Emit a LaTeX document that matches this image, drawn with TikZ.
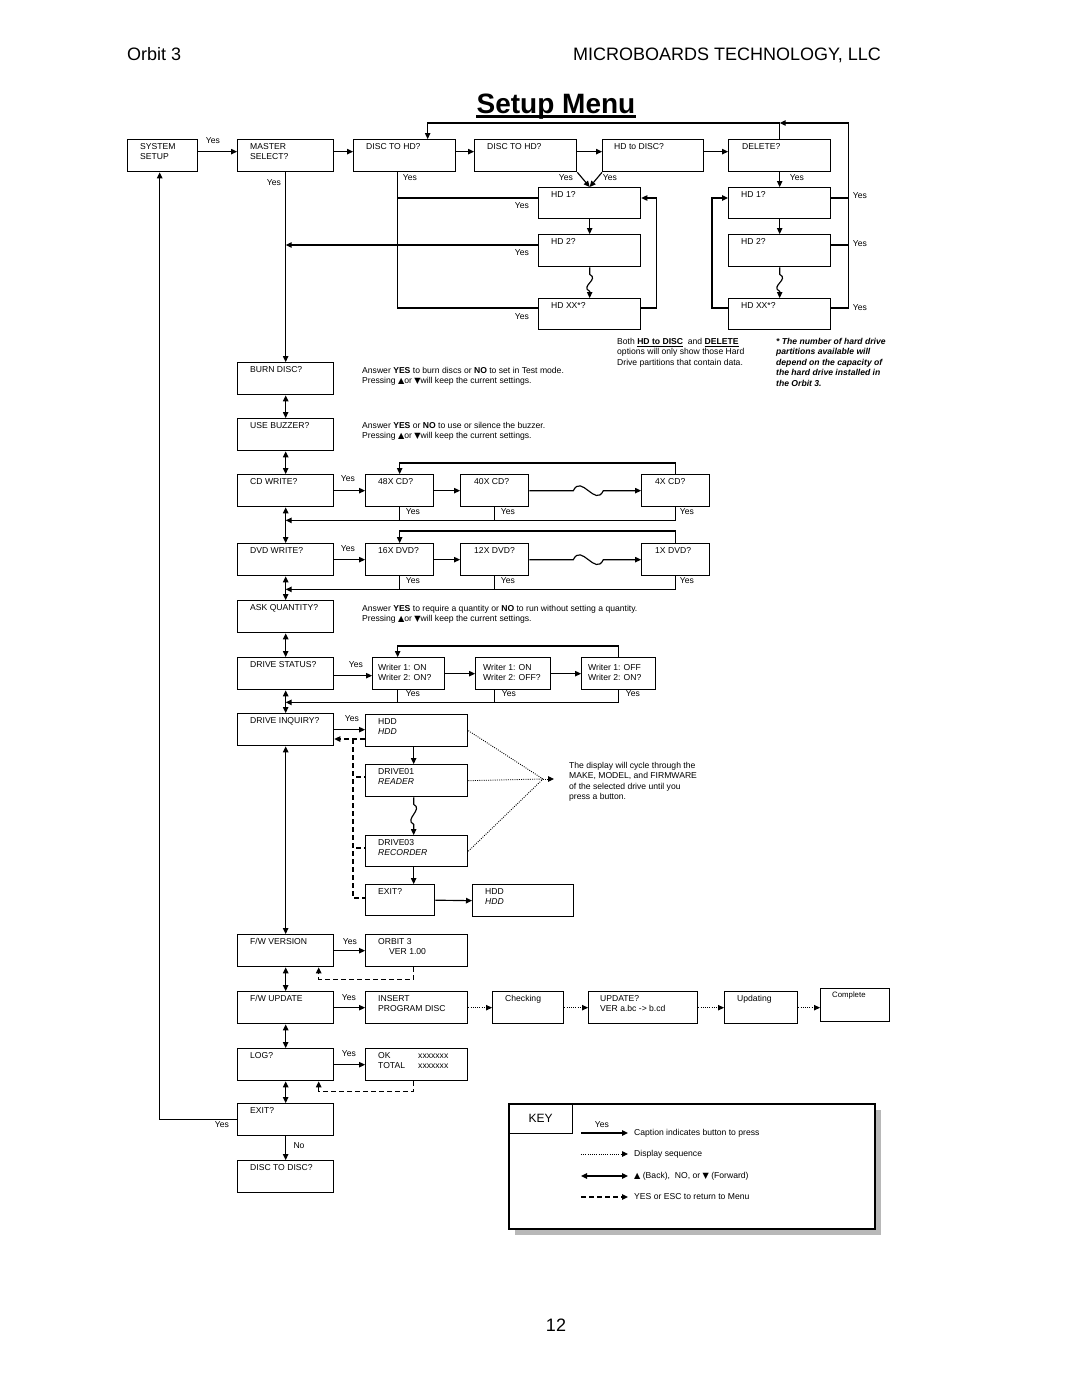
\documentclass[tikz,border=0pt]{standalone}
\usepackage{fontspec}
\setmainfont{Liberation Sans}
\newfontfamily\symf{DejaVu Sans}[Scale=0.95]
\usetikzlibrary{arrows.meta}
\newcommand{\fsz}{\fontsize{8.6}{10.5}\selectfont}
\newcommand{\uptri}{{\symf ▲}}
\newcommand{\dntri}{{\symf ▼}}
% optional dx; name, x, y, w, h, text
\newcommand{\bx}[7][13]{%
  \node[box, minimum width=#5pt, minimum height=#6pt, anchor=north west] (#2) at (#3,#4) {};
  \node[btxt] (#2-t) at ([xshift=#1pt,yshift=-4pt]#2.north west) {#7};
}
\begin{document}
\begin{tikzpicture}[x=1pt,y=-1pt,
  box/.style={draw, line width=1.35pt, inner sep=0pt},
  btxt/.style={inner sep=0pt, align=left, font=\fsz, anchor=north west},
  ln/.style={line width=1.15pt},
  tip/.style={-{Triangle[length=6pt,width=5.5pt]}},
  arr/.style={ln, tip},
  darr/.style={ln, {Triangle[length=6pt,width=5.5pt]}-{Triangle[length=6pt,width=5.5pt]}},
  dsh/.style={ln, dash pattern=on 5pt off 3pt},
  dsharr/.style={dsh, tip},
  dotl/.style={line width=0.9pt, dash pattern=on 0.9pt off 1.3pt},
  dotarr/.style={dotl, tip},
  lbl/.style={inner sep=0pt, font=\fsz},
  note/.style={inner sep=0pt, font=\fsz, align=left, anchor=north west},
]
\fill[white] (0,0) rectangle (1080,1397);
\useasboundingbox (0,0) rectangle (1080,1397);

% ---------- header ----------
\node[anchor=base west, font=\fontsize{18}{20}\selectfont, inner sep=0pt] (orbit) at (127,61) {Orbit 3};
\node[anchor=base east, font=\fontsize{18}{20}\selectfont, inner sep=0pt] (mbt) at (881,61) {MICROBOARDS TECHNOLOGY, LLC};
\node[anchor=base, font=\bfseries\fontsize{28}{30}\selectfont, inner sep=0pt] (title) at (556,113) {Setup Menu};
\draw[line width=2.4pt] ([yshift=-3.5pt]title.base west) -- ([yshift=-3.5pt]title.base east);
\node[anchor=base, font=\fontsize{18}{20}\selectfont, inner sep=0pt] (pg) at (556,1331) {12};

% ---------- top row ----------
\bx{sys}{127}{139}{70}{32}{SYSTEM\\SETUP}
\bx{master}{237}{139}{96}{32}{MASTER\\SELECT?}
\bx{dth1}{353}{139}{102}{32}{DISC TO HD?}
\bx{dth2}{474}{139}{102}{32}{DISC TO HD?}
\bx[12]{htd}{602}{139}{101}{32}{HD to DISC?}
\bx[14]{del}{728}{139}{102}{32}{DELETE?}

\draw[arr] ([yshift=4pt]sys.east) -- ([yshift=4pt]master.west);
\node[lbl] (ysys) at (213,141) {Yes};
\draw[arr] ([yshift=4pt]master.east) -- ([yshift=4pt]dth1.west);
\draw[arr] ([yshift=4pt]dth1.east) -- ([yshift=4pt]dth2.west);
\draw[arr] ([yshift=4pt]dth2.east) -- ([yshift=4pt]htd.west);
\draw[arr] ([yshift=4pt]htd.east) -- ([yshift=4pt]del.west);

% left HD column
\bx{lhd1}{538}{187}{102}{31}{HD 1?}
\bx{lhd2}{538}{234}{102}{32}{HD 2?}
\bx{lhdx}{538}{298}{102}{31}{HD XX*?}
\draw[arr] (dth2.south east) -- (lhd1.north);
\draw[arr] (htd.south west) -- (lhd1.north);
\node[lbl] (yd2) at (566,178) {Yes};
\node[lbl] (yhd) at (610,178) {Yes};
\draw[arr] (lhd1.south) -- (lhd2.north);
\draw[arr] (lhd2.south) -- ++(0,7) .. controls +(10,5) and +(-10,-5) .. ++(0,17) -- (lhdx.north);

\coordinate (l1w) at ([yshift=-11pt]lhd1.north west);
\coordinate (l2w) at ([yshift=-11pt]lhd2.north west);
\coordinate (lxw) at ([yshift=-10pt]lhdx.north west);
\coordinate (dv) at ([xshift=-7pt]dth1.south);
\draw[ln] (dv) |- (lxw);
\draw[ln] (l1w) -- (l1w -| dv);
\draw[arr] (l2w) -- (l2w -| master.south);
\node[lbl] (ydth1) at (410,178) {Yes};
\node[lbl] (yl1) at (522,206) {Yes};
\node[lbl] (yl2) at (522,253) {Yes};
\node[lbl] (ylx) at (522,317) {Yes};

\coordinate (l1e) at ([yshift=-11pt]lhd1.north east);
\coordinate (lxe) at ([yshift=-10pt]lhdx.north east);
\draw[arr] (lxe) -- ++(15,0) |- (l1e);

% right HD column
\bx{rhd1}{728}{187}{102}{31}{HD 1?}
\bx{rhd2}{728}{234}{102}{32}{HD 2?}
\bx{rhdx}{728}{298}{102}{31}{HD XX*?}
\draw[arr] (del.south) -- (rhd1.north);
\node[lbl] (ydel) at (797,178) {Yes};
\draw[arr] (rhd1.south) -- (rhd2.north);
\draw[arr] (rhd2.south) -- ++(0,7) .. controls +(10,5) and +(-10,-5) .. ++(0,17) -- (rhdx.north);

\coordinate (r1w) at ([yshift=-11pt]rhd1.north west);
\coordinate (rxw) at ([yshift=-10pt]rhdx.north west);
\draw[arr] (rxw) -- ++(-16,0) |- (r1w);

\coordinate (r1e) at ([yshift=-11pt]rhd1.north east);
\coordinate (r2e) at ([yshift=-11pt]rhd2.north east);
\coordinate (rxe) at ([yshift=-10pt]rhdx.north east);
\coordinate (rv) at ([xshift=17pt]rxe);
\coordinate (tj) at ([yshift=16pt]del.north);
\coordinate (dtin) at ([xshift=23pt]dth1.north);
\draw[ln] (r1e) -- (r1e -| rv);
\draw[ln] (r2e) -- (r2e -| rv);
\draw[arr] (rxe) -- (rv) -- (rv |- tj) -- (tj);
\draw[arr] (del.north) -- (tj) -- (tj -| dtin) -- (dtin);
\node[lbl] (yr1) at (860,196) {Yes};
\node[lbl] (yr2) at (860,244) {Yes};
\node[lbl] (yrx) at (860,308) {Yes};

% footnotes
\node[note] (fn1) at (617,338) {Both \underline{\textbf{HD\ to\ DISC}}\ \ and \underline{\textbf{DELETE}}\\options will only show those Hard\\Drive partitions that contain data.};
\node[note, font=\fsz\bfseries\itshape] (fn2) at (776,338) {* The number of hard drive\\partitions available will\\depend on the capacity of\\the hard drive installed in\\the Orbit 3.};

% ---------- main column ----------
\node[lbl] (ymaster) at (274,183) {Yes};
\bx{burn}{237}{362}{96}{32}{BURN DISC?}
\bx{buzz}{237}{418}{96}{32}{USE BUZZER?}
\bx{cdw}{237}{474}{96}{32}{CD WRITE?}
\bx{dvdw}{237}{543}{96}{32}{DVD WRITE?}
\bx{askq}{237}{600}{96}{32}{ASK QUANTITY?}
\bx{dstat}{237}{657}{96}{32}{DRIVE STATUS?}
\bx{dinq}{237}{713}{96}{32}{DRIVE INQUIRY?}
\bx{fwv}{237}{934}{96}{32}{F/W VERSION}
\bx{fwu}{237}{991}{96}{32}{F/W UPDATE}
\bx{log}{237}{1048}{96}{32}{LOG?}
\bx{exit}{237}{1103}{96}{32}{EXIT?}
\bx{dtd}{237}{1160}{96}{32}{DISC TO DISC?}

\draw[arr] (master.south) -- (burn.north);
\draw[darr] (burn.south) -- (buzz.north);
\draw[darr] (buzz.south) -- (cdw.north);
\draw[darr] (cdw.south) -- (dvdw.north);
\draw[darr] (dvdw.south) -- (askq.north);
\draw[darr] (askq.south) -- (dstat.north);
\draw[darr] (dstat.south) -- (dinq.north);
\draw[darr] (dinq.south) -- (fwv.north);
\draw[darr] (fwv.south) -- (fwu.north);
\draw[darr] (fwu.south) -- (log.north);
\draw[darr] (log.south) -- (exit.north);
\draw[arr] (exit.south) -- (dtd.north);
\node[lbl] (yno) at (299,1146) {No};
\coordinate (sysb) at ([xshift=-3pt]sys.south);
\draw[arr] (exit.west) -| (sysb);
\node[lbl] (yexit) at (222,1125) {Yes};

% notes
\node[note] (nburn) at (362,367) {Answer \textbf{YES} to burn discs or \textbf{NO} to set in Test mode.\\Pressing \uptri or \dntri will keep the current settings.};
\node[note] (nbuzz) at (362,422) {Answer \textbf{YES} or \textbf{NO} to use or silence the buzzer.\\Pressing \uptri or \dntri will keep the current settings.};
\node[note] (nask) at (362,605) {Answer \textbf{YES} to require a quantity or \textbf{NO} to run without setting a quantity.\\Pressing \uptri or \dntri will keep the current settings.};

% ---------- CD row ----------
\bx{cd48}{365}{474}{68}{32}{48X CD?}
\bx[14]{cd40}{460}{474}{68}{32}{40X CD?}
\bx[14]{cd4}{641}{474}{68}{32}{4X CD?}
\draw[arr] (cdw.east) -- (cd48.west);
\node[lbl] (ycdw) at (348,479) {Yes};
\draw[arr] (cd48.east) -- (cd40.west);
\draw[arr] (cd40.east) -- ++(44,0) .. controls +(8,-17) and +(-8,17) .. ++(30,0) -- (cd4.west);
\draw[arr] (cd4.north) -- ++(0,-11) -| (cd48.north);
\coordinate (cdr) at ([yshift=-13pt]cd4.south);
\draw[arr] (cd4.south) -- (cdr) -- (cdr -| cdw.south);
\draw[ln] (cd48.south) -- (cd48.south |- cdr);
\draw[ln] (cd40.south) -- (cd40.south |- cdr);
\node[lbl] (yc1) at (413,512) {Yes};
\node[lbl] (yc2) at (508,512) {Yes};
\node[lbl] (yc3) at (687,512) {Yes};

% ---------- DVD row ----------
\bx{dvd16}{365}{543}{68}{32}{16X DVD?}
\bx[14]{dvd12}{460}{543}{68}{32}{12X DVD?}
\bx[14]{dvd1}{641}{543}{68}{32}{1X DVD?}
\draw[arr] (dvdw.east) -- (dvd16.west);
\node[lbl] (ydvdw) at (348,549) {Yes};
\draw[arr] (dvd16.east) -- (dvd12.west);
\draw[arr] (dvd12.east) -- ++(44,0) .. controls +(8,-17) and +(-8,17) .. ++(30,0) -- (dvd1.west);
\draw[arr] (dvd1.north) -- ++(0,-12) -| (dvd16.north);
\coordinate (dvr) at ([yshift=-13pt]dvd1.south);
\draw[arr] (dvd1.south) -- (dvr) -- (dvr -| dvdw.south);
\draw[ln] (dvd16.south) -- (dvd16.south |- dvr);
\draw[ln] (dvd12.south) -- (dvd12.south |- dvr);
\node[lbl] (yv1) at (413,581) {Yes};
\node[lbl] (yv2) at (508,581) {Yes};
\node[lbl] (yv3) at (687,581) {Yes};

% ---------- drive status row ----------
\node[box, minimum width=72pt, minimum height=32pt, anchor=north west] (ws1) at (372,657) {};
\node[btxt] (ws1-t) at ([xshift=6pt,yshift=-7pt]ws1.north west) {Writer 1: ON\\Writer 2: ON?};
\node[box, minimum width=75pt, minimum height=32pt, anchor=north west] (ws2) at (475,657) {};
\node[btxt] (ws2-t) at ([xshift=8pt,yshift=-7pt]ws2.north west) {Writer 1: ON\\Writer 2: OFF?};
\node[box, minimum width=74pt, minimum height=32pt, anchor=north west] (ws3) at (581,657) {};
\node[btxt] (ws3-t) at ([xshift=7pt,yshift=-7pt]ws3.north west) {Writer 1: OFF\\Writer 2: ON?};
\draw[arr] ([yshift=-2pt]dstat.east) -- ([yshift=-2pt]dstat.east -| ws1.west);
\node[lbl] (ydst) at (356,665) {Yes};
\draw[arr] (ws1.east) -- (ws2.west);
\draw[arr] (ws2.east) -- (ws3.west);
\coordinate (wsl) at ([xshift=-11pt]ws1.north);
\draw[arr] (ws3.north) -- ++(0,-11) -| (wsl);
\coordinate (wr) at ([yshift=-12pt]ws3.south);
\draw[arr] (ws3.south) -- (wr) -- (wr -| dstat.south);
\draw[ln] ([xshift=-11pt]ws1.south) -- ++(0,12);
\draw[ln] ([xshift=-19pt]ws2.south) -- ++(0,12);
\node[lbl] (yw1) at (413,694) {Yes};
\node[lbl] (yw2) at (509,694) {Yes};
\node[lbl] (yw3) at (633,694) {Yes};

% ---------- drive inquiry ----------
\bx{hdd}{365}{714}{102}{32}{HDD\\\textit{HDD}}
\bx{dr1}{365}{764}{102}{32}{DRIVE01\\\textit{READER}}
\bx{dr3}{365}{835}{102}{31}{DRIVE03\\\textit{RECORDER}}
\bx{iexit}{365}{884}{69}{31}{EXIT?}
\bx{hdd2}{472}{884}{101}{32}{HDD\\\textit{HDD}}
\draw[arr] (dinq.east) -- (dinq.east -| hdd.west);
\node[lbl] (ydinq) at (352,719) {Yes};
\coordinate (hw) at ([yshift=-25pt]hdd.north west);
\draw[dsharr] (hw) -- (hw -| dinq.east);
\coordinate (dvx) at ([xshift=-12pt]hw);
\draw[dsh] (dvx) |- ([yshift=-14pt]iexit.north west);
\draw[dsh, dash phase=5pt] ([yshift=-13pt]dr1.north west -| dvx) -- ([yshift=-13pt]dr1.north west);
\draw[dsh, dash phase=5pt] ([yshift=-13pt]dr3.north west -| dvx) -- ([yshift=-13pt]dr3.north west);
\draw[arr] ([xshift=-3pt]hdd.south) -- ([xshift=-3pt]dr1.north);
\draw[arr] ([xshift=-3pt]dr1.south) -- ++(0,7) .. controls +(10,5) and +(-10,-5) .. ++(0,20) -- ([xshift=-3pt]dr3.north);
\draw[arr] ([xshift=-3pt]dr3.south) -- ([xshift=-3pt]dr3.south |- iexit.north);
\draw[arr] (iexit.east) -- (hdd2.west);
\coordinate (conv) at (543,779);
\draw[dotl] (hdd.east) -- (conv);
\draw[dotl] (dr1.east) -- (conv);
\draw[dotl] (dr3.east) -- (conv);
\draw[dotarr] (conv) -- ++(11,0);
\node[note] (ndisp) at (569,762) {The display will cycle through the\\MAKE, MODEL, and FIRMWARE\\of the selected drive until you\\press a button.};

% ---------- F/W version ----------
\bx{orb}{365}{934}{102}{32}{ORBIT 3\\\hspace*{11pt}VER 1.00}
\draw[arr] (fwv.east) -- (orb.west);
\node[lbl] (yfwv) at (350,942) {Yes};
\coordinate (fvr) at ([xshift=33pt]fwv.south);
\draw[dsharr] ([xshift=-3pt]orb.south) -- ++(0,12) -| (fvr);

% ---------- F/W update ----------
\bx{ins}{365}{991}{102}{32}{INSERT\\PROGRAM DISC}
\bx{chk}{492}{991}{71}{32}{Checking}
\bx[12]{upd}{588}{991}{109}{32}{UPDATE?\\VER a.bc -> b.cd}
\bx{updg}{724}{991}{73}{32}{Updating}
\node[box, minimum width=69pt, minimum height=33pt, anchor=north west] (cmpl) at (820,988) {};
\node[btxt, font=\fontsize{7.8}{9}\selectfont] (cmpl-t) at ([xshift=12pt,yshift=-4pt]cmpl.north west) {Complete};
\draw[arr] (fwu.east) -- (ins.west);
\node[lbl] (yfwu) at (349,998) {Yes};
\draw[dotarr] (ins.east) -- (chk.west);
\draw[dotarr] (chk.east) -- (upd.west);
\draw[dotarr] (upd.east) -- (updg.west);
\draw[dotarr] (updg.east) -- (updg.east -| cmpl.west);

% ---------- LOG ----------
\bx{okb}{365}{1048}{102}{32}{\makebox[40pt][l]{OK}xxxxxxx\\\makebox[40pt][l]{TOTAL}xxxxxxx}
\draw[arr] (log.east) -- (okb.west);
\node[lbl] (ylog) at (349,1054) {Yes};
\coordinate (lgr) at ([xshift=33pt]log.south);
\draw[dsharr] ([xshift=-3pt]okb.south) -- ++(0,10) -| (lgr);

% ---------- KEY ----------
\fill[black!28] (515,1110) rectangle (881,1235);
\node[draw, line width=1.8pt, fill=white, minimum width=366pt, minimum height=125pt, anchor=north west, inner sep=0pt] (key) at (508,1103) {};
\node[draw, line width=1.3pt, minimum width=64pt, minimum height=30pt, anchor=north west, inner sep=0pt] (keyl) at (508,1103) {};
\node[font=\fontsize{12}{14}\selectfont, inner sep=0pt] (keyt) at (keyl.center) {KEY};
\coordinate (k1a) at (581,1133); \coordinate (k1b) at (628,1133);
\coordinate (k2a) at (581,1154); \coordinate (k2b) at (628,1154);
\coordinate (k3a) at (581,1176); \coordinate (k3b) at (628,1176);
\coordinate (k4a) at (581,1197); \coordinate (k4b) at (628,1197);
\draw[arr] (k1a) -- (k1b);
\node[lbl] (ky) at (602,1125) {Yes};
\draw[dotarr] (k2a) -- (k2b);
\draw[darr] (k3a) -- (k3b);
\draw[dsharr] (k4a) -- (k4b);
\node[lbl, anchor=west] (kt1) at (634,1133) {Caption indicates button to press};
\node[lbl, anchor=west] (kt2) at (634,1154) {Display sequence};
\node[lbl, anchor=west] (kt3) at (634,1176) {\uptri{} (Back),\ \ NO, or \dntri{} (Forward)};
\node[lbl, anchor=west] (kt4) at (634,1197) {YES or ESC to return to Menu};

\end{tikzpicture}
\end{document}
